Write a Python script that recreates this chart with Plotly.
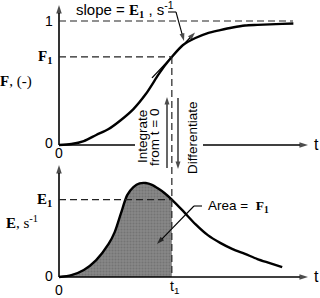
import plotly.graph_objects as go

# ---------------- data ----------------
# cumulative distribution F(t) (top panel)
t_F = [0, 0.5, 1.0, 1.5, 2.0, 2.5, 3.0, 3.5, 4.0, 4.25, 4.55, 5.0, 5.5, 6.0, 6.5, 7.0, 7.5, 8.0, 8.5, 9.0, 9.45]
F_vals = [0, 0.008, 0.032, 0.081, 0.129, 0.202, 0.290, 0.411, 0.565, 0.637, 0.710, 0.806, 0.863,
          0.903, 0.927, 0.948, 0.964, 0.969, 0.973, 0.977, 0.980]

# residence time distribution E(t) (bottom panel)
t_E = [0, 0.5, 1.0, 1.5, 2.0, 2.25, 2.5, 2.75, 3.0, 3.25, 3.5, 3.75, 4.0, 4.25, 4.55,
       5.0, 5.5, 6.0, 6.5, 7.0, 7.5, 8.0, 8.5, 9.0]
E_vals = [0, 0.005, 0.019, 0.046, 0.090, 0.123, 0.174, 0.223, 0.245, 0.255, 0.256, 0.251, 0.241,
          0.229, 0.211, 0.180, 0.144, 0.114, 0.093, 0.076, 0.063, 0.049, 0.038, 0.027]

t1 = 4.55      # chosen time
F1 = 0.710     # F(t1)
E1 = 0.211     # E(t1) = slope of F at t1
F_max = 1.0

# ---------------- layout geometry (pixels) ----------------
W, H = 320, 298
PX_T0, PX_PER_T = 59, 24.8
PY_F0, PX_PER_F = 145, 124
PY_E0, PX_PER_E = 277, 367


def T(px):
    return (px - PX_T0) / PX_PER_T


def FY(py):
    return (PY_F0 - py) / PX_PER_F


def EY(py):
    return (PY_E0 - py) / PX_PER_E


def PX(x):
    return x / W


def PY(y):
    return 1 - y / H


SANS = "Liberation Sans, Arial, sans-serif"
SERIF = "Liberation Serif, Times New Roman, serif"

fig = go.Figure()

# shaded area under E from 0 to t1
t_fill = [t for t in t_E if t <= t1]
E_fill = [e for t, e in zip(t_E, E_vals) if t <= t1]
fig.add_trace(go.Scatter(
    x=t_fill, y=E_fill, yaxis="y2", mode="lines",
    line=dict(width=0, shape="spline", smoothing=0.8),
    fill="tozeroy", fillcolor="#838383",
    fillpattern=dict(shape=".", bgcolor="#878787", fgcolor="#626262", size=3, solidity=0.35),
    hoverinfo="skip", showlegend=False))

# E curve
fig.add_trace(go.Scatter(
    x=t_E, y=E_vals, yaxis="y2", mode="lines",
    line=dict(color="black", width=2.4, shape="spline", smoothing=0.8),
    showlegend=False))

# F curve
fig.add_trace(go.Scatter(
    x=t_F, y=F_vals, yaxis="y", mode="lines",
    line=dict(color="black", width=2.4, shape="spline", smoothing=0.8),
    showlegend=False))


def arrow(x0, y0, x1, y1, yaxis, width=1.6, head=9):
    fig.add_trace(go.Scatter(
        x=[x0, x1], y=[y0, y1], yaxis=yaxis, mode="lines+markers",
        line=dict(color="black", width=width),
        marker=dict(symbol="arrow", size=[0, head], angleref="previous", color="black",
                    line=dict(width=0)),
        hoverinfo="skip", showlegend=False))


# axes with arrows
arrow(0, 0, 0, FY(5), "y")
arrow(T(203), 0, T(308), 0, "y")
arrow(0, 0, 0, EY(165), "y2")
arrow(0, 0, T(308), 0, "y2")

# tangent line at t1 with slope E1
ta, tb = T(152), T(195)
arrow(ta, F1 + E1 * (ta - t1), tb, F1 + E1 * (tb - t1), "y", width=1.3, head=8)

# slope leader arrow
arrow(T(176), FY(12), T(184), FY(41), "y", width=1.1, head=8)
# area leader arrow
arrow(T(194), EY(206), T(157), EY(244), "y2", width=1.1, head=8)

# integrate / differentiate arrows
arrow(T(167), FY(168), T(167), FY(97), "y", width=1.2, head=8)
arrow(T(178), FY(98), T(178), FY(169), "y", width=1.2, head=8)

dash = dict(color="#222222", width=1.2, dash="7px,4px")
solid = dict(color="black", width=1.6)

shapes = [
    # dashed guide lines
    dict(type="line", xref="x", yref="y", x0=0, x1=T(293), y0=F_max, y1=F_max, line=dash),
    dict(type="line", xref="x", yref="y", x0=0, x1=t1, y0=F1, y1=F1, line=dash),
    dict(type="line", xref="x", yref="y2", x0=0, x1=t1, y0=E1, y1=E1, line=dash),
    dict(type="line", xref="x", yref="y", x0=t1, x1=t1, y0=F1, y1=FY(PY_E0), line=dash),
    # top time axis, left piece (broken by the text)
    dict(type="line", xref="x", yref="y", x0=0, x1=T(135), y0=0, y1=0, line=solid),
    # leader pieces
    dict(type="line", xref="x", yref="y", x0=T(168), x1=T(176), y0=FY(12), y1=FY(12),
         line=dict(color="black", width=1.1)),
    dict(type="line", xref="x", yref="y2", x0=T(202), x1=T(194), y0=EY(206), y1=EY(206),
         line=dict(color="black", width=1.1)),
]

ann = []


def label(text, x, y, size=14, family=SANS, xanchor="center", yanchor="middle", angle=0):
    ann.append(dict(text=text, x=x, y=y, xref="paper", yref="paper", showarrow=False,
                    xanchor=xanchor, yanchor=yanchor, textangle=angle,
                    font=dict(family=family, size=size, color="black")))


# top panel labels
label("1", PX(55), PY(21), 14, xanchor="right")
label("<b>F<sub>1</sub></b>", PX(54), PY(57), 15, SERIF, xanchor="right")
label("<b>F</b>, (-)", PX(16), PY(82), 15, SERIF)
label("0", PX(55), PY(143), 14, xanchor="right")
label("0", PX(59), PY(153), 14)
label("t", PX(316), PY(144), 16)
label("slope = <span style='font-family:Liberation Serif;font-weight:bold'>E<sub>1</sub></span> , s<sup>-1</sup>",
      PX(74), PY(10), 15, xanchor="left")

# middle texts
label("Integrate", PX(142), PY(137), 13.5, angle=-90)
label("from t = 0", PX(154), PY(138), 13.5, angle=-90)
label("Differentiate", PX(192), PY(138), 13.5, angle=-90)

# bottom panel labels
label("<b>E<sub>1</sub></b>", PX(54), PY(200), 15, SERIF, xanchor="right")
label("<b>E</b>, s<sup>-1</sup>", PX(22), PY(222), 15, SERIF)
label("0", PX(55), PY(276), 14, xanchor="right")
label("0", PX(59), PY(290), 14)
label("t", PX(316), PY(276), 16)
label("t<sub>1</sub>", PX(174), PY(287), 14)
label("Area =  <span style='font-family:Liberation Serif;font-weight:bold'>F<sub>1</sub></span>",
      PX(206), PY(206), 13.5, xanchor="left")

fig.update_layout(
    width=W, height=H,
    margin=dict(l=0, r=0, t=0, b=0),
    paper_bgcolor="white", plot_bgcolor="white",
    xaxis=dict(range=[T(0), T(W)], visible=False, domain=[0, 1], fixedrange=True),
    yaxis=dict(range=[FY(H), FY(0)], visible=False, domain=[0, 1], fixedrange=True),
    yaxis2=dict(range=[EY(H), EY(0)], visible=False, overlaying="y", fixedrange=True),
    shapes=shapes,
    annotations=ann,
    showlegend=False,
)

fig.write_html("out.html", config={"displayModeBar": False},
               post_script="document.body.style.margin='0';")
